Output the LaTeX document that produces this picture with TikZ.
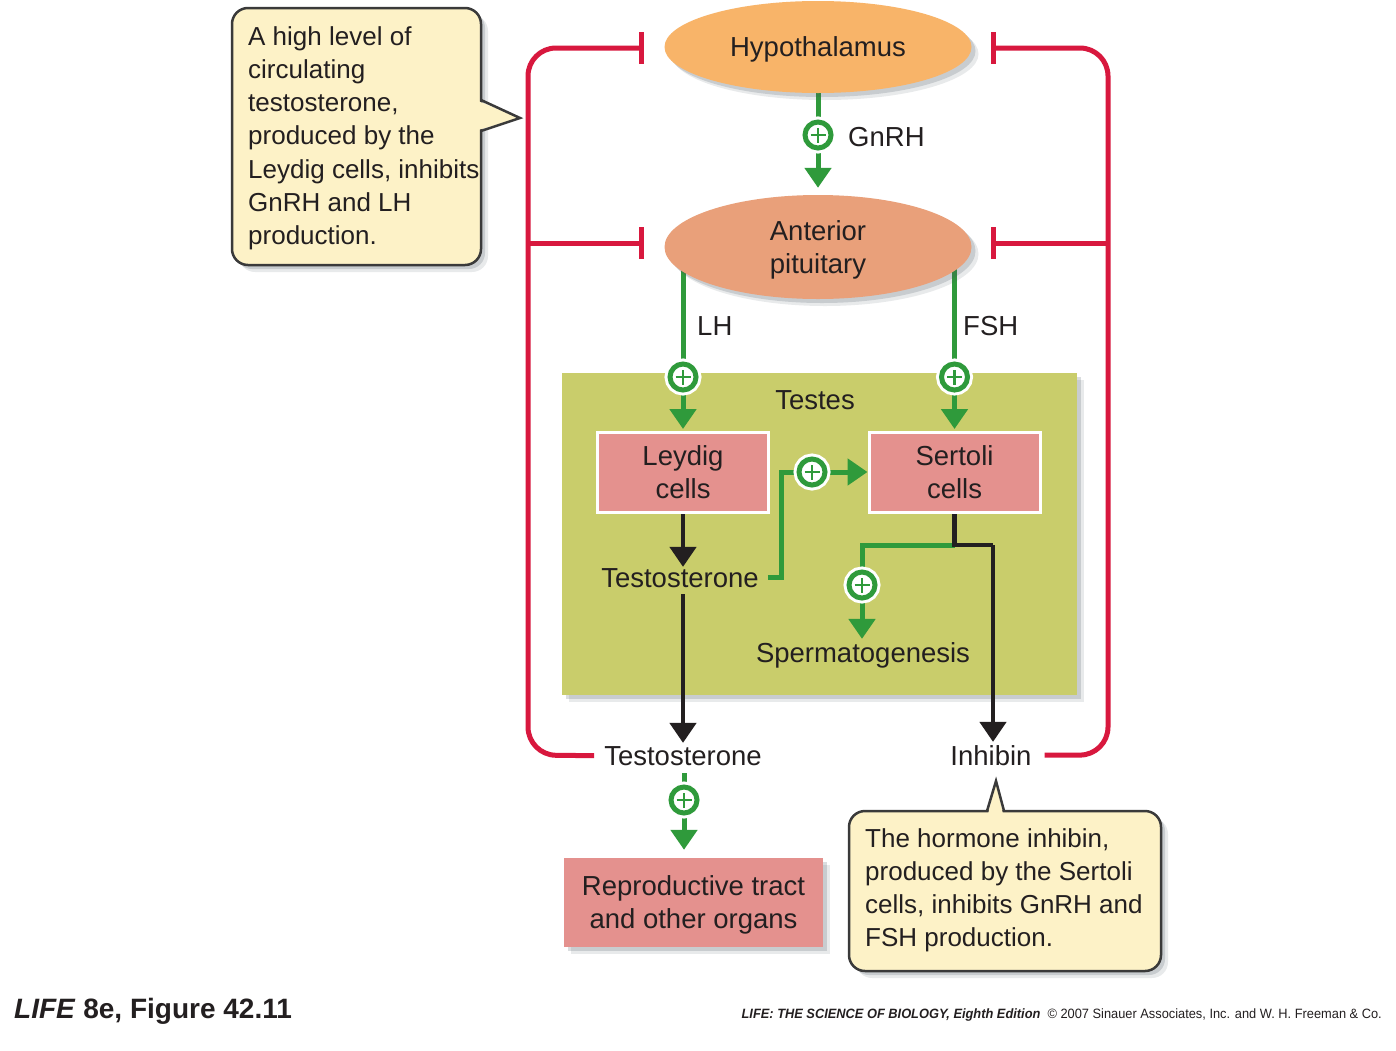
\documentclass[tikz,border=0pt]{standalone}
\usepackage{fontspec}
\setmainfont{Liberation Sans}
\usepackage{graphicx}
\usetikzlibrary{arrows.meta,shadows,shapes.geometric}
\pgfdeclarelayer{back}
\pgfdeclarelayer{mid}
\pgfsetlayers{back,mid,main}
\definecolor{ink}{HTML}{231F20}
\definecolor{hypc}{HTML}{F8B469}
\definecolor{pitc}{HTML}{E9A07A}
\definecolor{testc}{HTML}{C9CD6B}
\definecolor{pinkc}{HTML}{E4918E}
\definecolor{callc}{HTML}{FDF2C7}
\definecolor{rd}{HTML}{D8183E}
\definecolor{gr}{HTML}{2F9A3B}
\definecolor{edgec}{HTML}{3A3A3A}
\definecolor{shadc}{HTML}{4A5560}
\begin{document}
\begin{tikzpicture}[x=1pt,y=-1pt,
  lbl/.style={font=\fontsize{27.5}{33}\selectfont,text=ink,inner sep=0pt,align=center},
  ctext/.style={font=\fontsize{26}{33.3}\selectfont,text=ink,inner sep=0pt,align=left},
  shadowed/.style={drop shadow={shadow xshift=7pt,shadow yshift=-7pt,opacity=0.12,fill=shadc},
                   drop shadow={shadow xshift=4pt,shadow yshift=-4pt,opacity=0.2,fill=shadc}},
  gland/.style={ellipse,minimum width=307pt,minimum height=92pt,lbl,text depth=0pt,shadowed},
  cellbox/.style={rectangle,fill=pinkc,draw=white,line width=3pt,minimum width=171pt,minimum height=80pt,lbl,text depth=0pt},
  plusc/.style={circle,draw=gr,line width=5pt,fill=white,minimum size=26pt,inner sep=0pt,
     preaction={draw=white,line width=11pt},
     path picture={\draw[gr,line width=2.2pt] ([xshift=-7.5pt]path picture bounding box.center) -- ([xshift=7.5pt]path picture bounding box.center);
                   \draw[gr,line width=2.2pt] ([yshift=-7.5pt]path picture bounding box.center) -- ([yshift=7.5pt]path picture bounding box.center);}},
  gline/.style={draw=gr,line width=5pt},
  garrow/.style={gline,-{Triangle[width=26pt,length=20pt]}},
  kline/.style={draw=ink,line width=4.5pt},
  karrow/.style={kline,-{Triangle[width=26pt,length=20pt]}},
  rline/.style={draw=rd,line width=5pt,rounded corners=28pt},
  rbar/.style={draw=rd,line width=5pt},
  callout/.style={fill=callc,draw=edgec,line width=2.5pt,rounded corners=16pt}
]
\begin{pgfonlayer}{back}
\fill[white] (0,0) rectangle (1396,1050);
\node[rectangle,fill=testc,minimum width=515pt,minimum height=322pt,inner sep=0pt,shadowed] (testes) at (819.5,534) {};
\end{pgfonlayer}
\path[use as bounding box] (0,0) rectangle (1396,1050);

% glands
\node[gland,fill=hypc] (hyp) at (818,47) {Hypothalamus};
\node[gland,fill=pitc,minimum height=104pt] (pit) at (818,247) {Anterior\\pituitary};
\node[plusc] (p1) at (818,135) {};
\node[lbl,anchor=base west] (gnrh) at (848,146) {GnRH};

% testes content
\node[lbl,anchor=base] (testeslbl) at (815,409) {Testes};
\node[cellbox] (leydig) at (683,472.5) {Leydig\\cells};
\node[cellbox] (sertoli) at (954.5,472.5) {Sertoli\\cells};
\node[plusc] (p2) at (683,377) {};
\node[plusc] (p3) at (954.5,377) {};
\node[lbl,anchor=base west] (lh) at (697,335) {LH};
\node[lbl,anchor=base west] (fsh) at (963,335) {FSH};
\node[lbl,anchor=base] (testo1) at (680,587) {Testosterone};
\node[plusc] (p4) at (812,472) {};
\node[plusc] (p5) at (862,585) {};
\node[lbl,anchor=base] (sperm) at (863,662) {Spermatogenesis};
\node[lbl,anchor=base] (testo2) at (683,765) {Testosterone};
\node[lbl,anchor=base] (inhibin) at (991,765) {Inhibin};
\node[plusc] (p6) at (684,800) {};
\node[rectangle,fill=pinkc,minimum width=259pt,minimum height=89pt,lbl,text depth=0pt,shadowed] (repro) at (693.5,902.5) {Reproductive tract\\and other organs};

% callouts
\draw[callout,shadowed] (232,8) rectangle (481,265);
\fill[callc] (478,101) -- (520,118) -- (478,130) -- cycle;
\draw[draw=edgec,line width=2.5pt,line join=miter] (481,100) -- (520,118) -- (481,131);
\node[ctext,anchor=north west] (ctl) at (248,26) {A high level of\\circulating\\testosterone,\\produced by the\\Leydig cells, inhibits\\GnRH and LH\\production.};

\draw[callout,shadowed] (849,811) rectangle (1161,971);
\fill[callc] (988,814) -- (996,781) -- (1003,814) -- cycle;
\draw[draw=edgec,line width=2.5pt,line join=miter] (987,811) -- (996,781) -- (1004,811);
\node[ctext,anchor=north west] (ctr) at (865,828) {The hormone inhibin,\\produced by the Sertoli\\cells, inhibits GnRH and\\FSH production.};

% footer
\node[anchor=base west,inner sep=0pt,font=\fontsize{28}{28}\selectfont\bfseries,text=ink] (fig) at (14,1018) {\textit{LIFE} 8e, Figure 42.11};
\node[anchor=base east,inner sep=0pt,font=\fontsize{13.5}{14}\selectfont,text=ink] (credit) at (1382,1018) {\scalebox{0.95}[1]{\textbf{\textit{LIFE: THE SCIENCE OF BIOLOGY, Eighth Edition}}\ \ © 2007 Sinauer Associates, Inc. and W. H. Freeman \& Co.}};

% connectors
\coordinate (bendA) at (781,472);
\coordinate (jS) at (954.5,545);
\coordinate (bendB) at (993,545);
\coordinate (bendC) at (862,545);
\coordinate (tL1) at (641,48);
\coordinate (tL2) at (641,243);
\coordinate (cLt) at (528,48);
\coordinate (cLb) at (528,755);
\coordinate (mL) at (528,243);
\coordinate (tR1) at (993,48);
\coordinate (tR2) at (993,243);
\coordinate (cRt) at (1108,48);
\coordinate (cRb) at (1108,755);
\coordinate (mR) at (1108,243);

\begin{pgfonlayer}{mid}
\draw[gline] (hyp.south) -- (p1);
\draw[garrow] (p1) -- ([yshift=7pt]pit.north);
\draw[gline] (pit.center -| p2) -- (p2);
\draw[garrow,shorten >=2pt] (p2) -- (leydig.north);
\draw[gline] (pit.center -| p3) -- (p3);
\draw[garrow,shorten >=2pt] (p3) -- (sertoli.north);
\draw[karrow,shorten >=1pt] (leydig.south) -- (leydig.south |- testo1.north);
\draw[karrow,shorten <=7pt,shorten >=3pt] (leydig.south |- testo1.south) -- (leydig.south |- testo2.north);
\draw[gline,line join=miter] ([xshift=9pt]testo1.east) -| (bendA) -- (p4);
\draw[garrow] (p4) -- (p4 -| sertoli.west);
\draw[gline,line join=miter] (jS) -- (bendC) -- (p5);
\draw[garrow,shorten >=3pt] (p5) -- (p5 |- sperm.north);
\draw[kline,line join=miter] (sertoli.south) -- (jS) -- (bendB);
\draw[karrow,shorten >=3pt] (bendB) -- (bendB |- inhibin.north);
\draw[gline,shorten <=8pt] (testo2.south -| p6) -- (p6);
\draw[garrow,shorten >=8pt] (p6) -- (p6 |- repro.north);
% red inhibition
\draw[rline] (tL1) -- (cLt) -- (cLb) -- ([xshift=-10pt]testo2.west);
\draw[rbar] (mL) -- (tL2);
\draw[rbar] ([yshift=16pt]tL1) -- ([yshift=-16pt]tL1);
\draw[rbar] ([yshift=16pt]tL2) -- ([yshift=-16pt]tL2);
\draw[rline] (tR1) -- (cRt) -- (cRb) -- ([xshift=13pt]inhibin.east);
\draw[rbar] (mR) -- (tR2);
\draw[rbar] ([yshift=16pt]tR1) -- ([yshift=-16pt]tR1);
\draw[rbar] ([yshift=16pt]tR2) -- ([yshift=-16pt]tR2);
\end{pgfonlayer}
\end{tikzpicture}
\end{document}
